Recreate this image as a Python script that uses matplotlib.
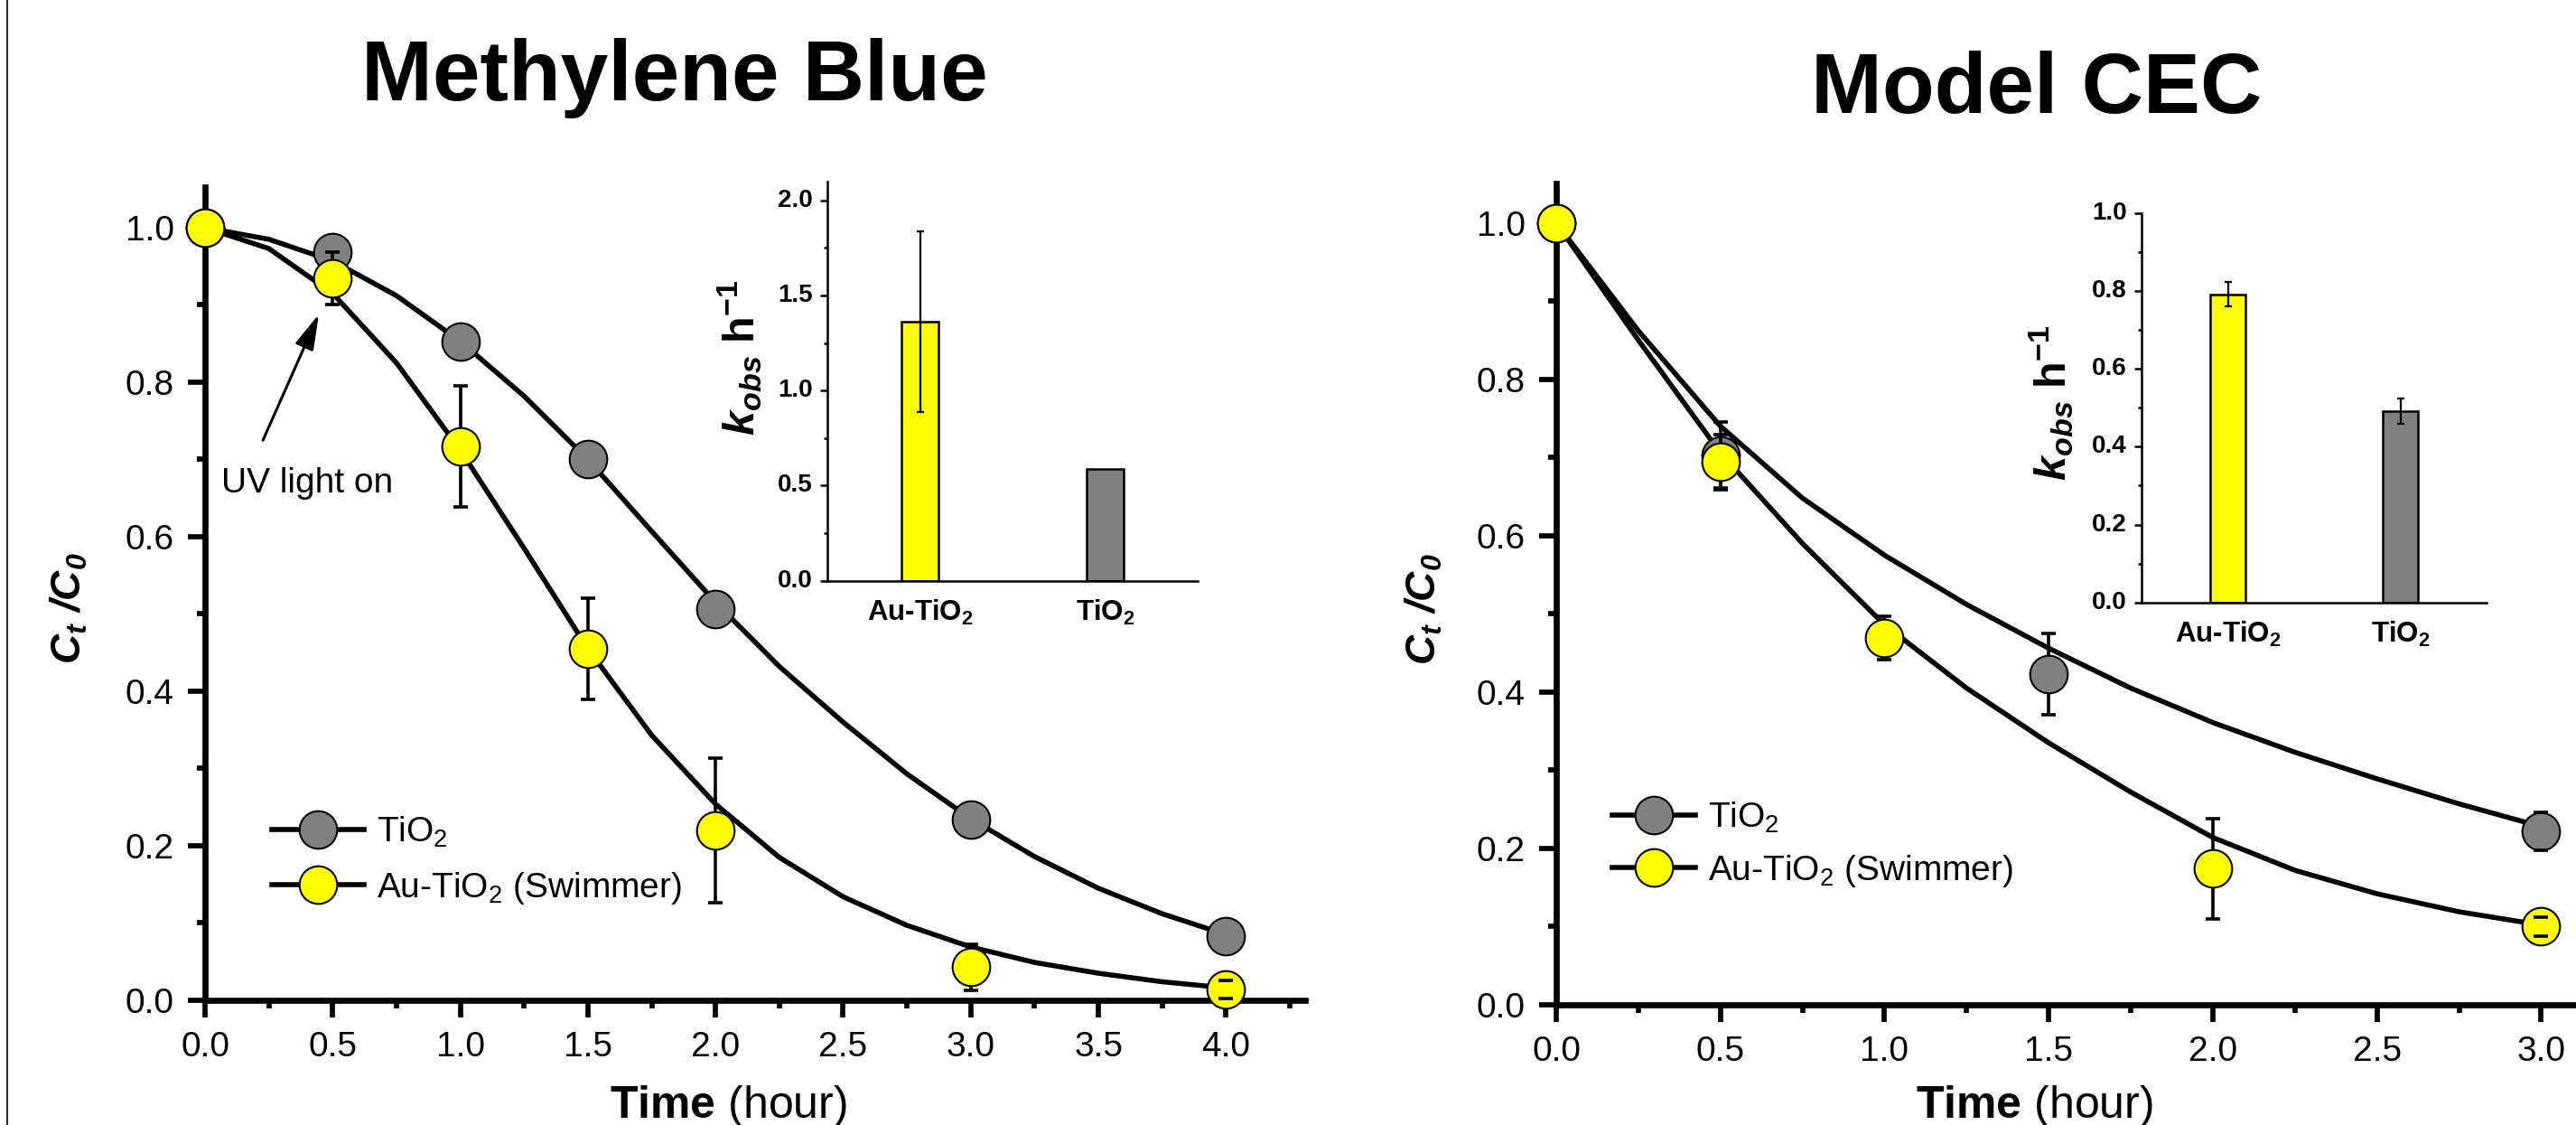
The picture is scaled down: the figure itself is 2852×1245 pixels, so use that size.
import matplotlib
matplotlib.use("Agg")
import matplotlib.pyplot as plt
from matplotlib.lines import Line2D
from matplotlib.ticker import MultipleLocator, FormatStrFormatter, FixedLocator

plt.rcParams['font.family'] = ['Liberation Sans', 'DejaVu Sans']
plt.rcParams['mathtext.fontset'] = 'custom'
plt.rcParams['mathtext.rm'] = 'Liberation Sans'
plt.rcParams['mathtext.it'] = 'Liberation Sans:italic'
plt.rcParams['mathtext.bf'] = 'Liberation Sans:bold'
plt.rcParams['mathtext.bfit'] = 'Liberation Sans:bold:italic'

GRAY = '#808080'
YELLOW = '#ffff00'

# ----------------------------
# Methylene Blue data
# ----------------------------
mb_tio2_t = [0.0, 0.5, 1.0, 1.5, 2.0, 3.0, 4.0]
mb_tio2 = [1.0, 0.968, 0.853, 0.700, 0.507, 0.234, 0.083]
mb_au_t = [0.0, 0.5, 1.0, 1.5, 2.0, 3.0, 4.0]
mb_au = [1.0, 0.934, 0.717, 0.455, 0.220, 0.043, 0.014]
mb_au_err = [0.0, 0.034, 0.078, 0.066, 0.094, 0.030, 0.012]

# fitted curves
mb_fit_t = [0.0, 0.25, 0.5, 0.75, 1.0, 1.25, 1.5, 1.75, 2.0,
            2.25, 2.5, 2.75, 3.0, 3.25, 3.5, 3.75, 4.0]
mb_tio2_fit = [1.0, 0.985, 0.957, 0.912, 0.853, 0.782, 0.700, 0.607, 0.515,
               0.432, 0.360, 0.293, 0.235, 0.186, 0.145, 0.112, 0.085]
mb_au_fit = [1.0, 0.973, 0.915, 0.825, 0.712, 0.585, 0.455, 0.343, 0.254,
             0.185, 0.134, 0.097, 0.069, 0.049, 0.035, 0.024, 0.016]

# ----------------------------
# Model CEC data
# ----------------------------
cec_tio2_t = [0.0, 0.5, 1.5, 3.0]
cec_tio2 = [1.0, 0.703, 0.423, 0.222]
cec_tio2_err = [0.0, 0.042, 0.052, 0.024]
cec_au_t = [0.0, 0.5, 1.0, 2.0, 3.0]
cec_au = [1.0, 0.694, 0.469, 0.174, 0.100]
cec_au_err = [0.0, 0.035, 0.028, 0.064, 0.012]

cec_fit_t = [0.0, 0.25, 0.5, 0.75, 1.0, 1.25, 1.5, 1.75, 2.0,
             2.25, 2.5, 2.75, 3.0]
cec_tio2_fit = [1.0, 0.862, 0.740, 0.648, 0.575, 0.512, 0.456, 0.405, 0.361,
                0.323, 0.289, 0.257, 0.228]
cec_au_fit = [1.0, 0.850, 0.706, 0.590, 0.486, 0.405, 0.335, 0.272, 0.214,
              0.172, 0.142, 0.119, 0.102]

# ----------------------------
# Inset rate constants
# ----------------------------
kobs_labels = ['Au-TiO$_\\mathbf{2}$', 'TiO$_\\mathbf{2}$']
mb_kobs = [1.363, 0.586]
mb_kobs_err = [0.475, 0.0]
cec_kobs = [0.791, 0.491]
cec_kobs_err = [0.031, 0.033]
mb_kticks = [0.0, 0.5, 1.0, 1.5, 2.0]
mb_kticklabels = ['0.0', '0.5', '1.0', '1.5', '2.0']
cec_kticks = [0.0, 0.2, 0.4, 0.6, 0.8, 1.0]
cec_kticklabels = ['0.0', '0.2', '0.4', '0.6', '0.8', '1.0']

W, H = 2852, 1245
fig = plt.figure(figsize=(W / 100, H / 100), dpi=100)


def px_axes(left, right, bottom, top):
    # axes box given in pixels of the output image (y from top)
    return fig.add_axes([left / W, 1 - bottom / H, (right - left) / W, (bottom - top) / H])


def style_main(ax, xmax, ymax, label_xy):
    ax.set_xlim(0, xmax)
    ax.set_ylim(0, ymax)
    for s in ['top', 'right']:
        ax.spines[s].set_visible(False)
    for s in ['left', 'bottom']:
        ax.spines[s].set_linewidth(4.8)
    ax.xaxis.set_major_locator(MultipleLocator(0.5))
    ax.xaxis.set_minor_locator(MultipleLocator(0.25))
    ax.yaxis.set_major_locator(MultipleLocator(0.2))
    ax.yaxis.set_minor_locator(MultipleLocator(0.1))
    ax.xaxis.set_major_formatter(FormatStrFormatter('%.1f'))
    ax.yaxis.set_major_formatter(FormatStrFormatter('%.1f'))
    ax.tick_params(which='major', direction='out', length=13.5, width=4.1,
                   labelsize=28, pad=11)
    ax.tick_params(which='minor', direction='out', length=6.5, width=4.1)
    ax.set_ylabel(r'$\mathbfit{C_t\ /C_0}$', fontsize=33)
    ax.yaxis.set_label_coords(*label_xy)


def series(ax, t, y, err, color, z):
    ax.plot(t, y, 'o', ms=30, mfc=color, mec='black', mew=1.5,
            zorder=z, clip_on=False)
    if err is None:
        return
    keep = [i for i, e in enumerate(err) if e > 0]
    eb = ax.errorbar([t[i] for i in keep], [y[i] for i in keep],
                     yerr=[err[i] for i in keep], fmt='none', ecolor='black',
                     elinewidth=2.6, capsize=6, capthick=2.6)
    for c in eb.lines[1]:
        c.set_zorder(8)
        c.set_clip_on(False)
    for b in eb.lines[2]:
        b.set_zorder(z - 0.5)
        b.set_clip_on(False)


def bars(ax, vals, errs):
    ax.bar([0, 1], vals, width=0.2, color=[YELLOW, GRAY], edgecolor='black',
           linewidth=1.8, zorder=2)
    keep = [i for i, e in enumerate(errs) if e > 0]
    ax.errorbar(keep, [vals[i] for i in keep], yerr=[errs[i] for i in keep],
                fmt='none', ecolor='black', elinewidth=1.6, capsize=3,
                capthick=1.6, zorder=3)


def style_inset(ax, ymax, ticks, ticklabels, minor, label_xy, lab_off):
    ax.set_facecolor('none')
    ax.set_xlim(-0.5, 1.5)
    ax.set_ylim(0, ymax)
    for s in ['top', 'right']:
        ax.spines[s].set_visible(False)
    for s in ['left', 'bottom']:
        ax.spines[s].set_linewidth(1.8)
    ax.yaxis.set_major_locator(FixedLocator(ticks))
    ax.yaxis.set_minor_locator(MultipleLocator(minor))
    ax.tick_params(axis='y', which='major', direction='out', length=5.7,
                   width=1.8, labelleft=False)
    ax.tick_params(axis='y', which='minor', direction='out', length=3, width=1.8)
    # bold tick labels written next to the ticks
    for v, s in zip(ticks, ticklabels):
        ax.text(-lab_off, v, s, transform=ax.get_yaxis_transform(), ha='right',
                va='center', fontsize=20, fontweight='bold')
    ax.set_xticks([0, 1])
    ax.set_xticklabels(kobs_labels, fontweight='bold')
    ax.tick_params(axis='x', length=0, pad=14, labelsize=22.5)
    ax.set_ylabel(r'$\mathbfit{k}_{\mathbfit{obs}}\ \mathbf{h}^{\mathbf{-1}}$',
                  fontsize=35)
    ax.yaxis.set_label_coords(*label_xy)


def legend(ax, anchor, spacing, hlen):
    handles = [
        Line2D([], [], color='black', lw=4, marker='o', ms=30, mfc=GRAY, mec='black', mew=1.5),
        Line2D([], [], color='black', lw=4, marker='o', ms=30, mfc=YELLOW, mec='black', mew=1.5),
    ]
    ax.legend(handles, ['TiO$_2$', 'Au-TiO$_2$ (Swimmer)'], loc='center left',
              bbox_to_anchor=anchor, frameon=False, fontsize=28, numpoints=1,
              handlelength=hlen, handletextpad=0.35, labelspacing=spacing,
              borderpad=0, borderaxespad=0)


# ----------------------------
# Methylene Blue panel
# ----------------------------
ax1 = px_axes(227, 1445, 1107, 207)
style_main(ax1, 4.31, 1.0526, (-0.105, 0.482))
ax1.plot(mb_fit_t, mb_tio2_fit, color='black', lw=4.0, zorder=2)
ax1.plot(mb_fit_t, mb_au_fit, color='black', lw=4.0, zorder=2)
series(ax1, mb_tio2_t, mb_tio2, None, GRAY, 3)
series(ax1, mb_au_t, mb_au, mb_au_err, YELLOW, 4)
legend(ax1, (0.061, 0.172), 0.6, 2.62)
ax1.annotate('', xy=(0.45, 0.891), xytext=(0.223, 0.722),
             arrowprops=dict(arrowstyle='-|>,head_length=0.8,head_width=0.22',
                             mutation_scale=30, lw=2.2, color='black'))
ax1.text(0.064, 0.657, 'UV light on', fontsize=28, va='baseline')

in1 = px_axes(916, 1326, 642.5, 200.7)
bars(in1, mb_kobs, mb_kobs_err)
style_inset(in1, 2.1, mb_kticks, mb_kticklabels, 0.25, (-0.17, 0.56), 0.040)

# ----------------------------
# Model CEC panel
# ----------------------------
ax2 = px_axes(1723, 2897, 1112, 202.5)
style_main(ax2, 3.23, 1.051, (-0.105, 0.482))
ax2.plot(cec_fit_t, cec_tio2_fit, color='black', lw=4.0, zorder=2)
ax2.plot(cec_fit_t, cec_au_fit, color='black', lw=4.0, zorder=2)
series(ax2, cec_tio2_t, cec_tio2, cec_tio2_err, GRAY, 3)
series(ax2, cec_au_t, cec_au, cec_au_err, YELLOW, 4)
legend(ax2, (0.053, 0.195), 0.5, 2.37)

in2 = px_axes(2371, 2753, 666.8, 235.7)
bars(in2, cec_kobs, cec_kobs_err)
style_inset(in2, 1.0, cec_kticks, cec_kticklabels, 0.1, (-0.19, 0.514), 0.042)

# ----------------------------
# Titles, x labels, border
# ----------------------------
fig.text(747 / W, 1 - 111 / H, 'Methylene Blue', ha='center', va='baseline',
         fontsize=68, fontweight='bold')
fig.text(2255 / W, 1 - 125 / H, 'Model CEC', ha='center', va='baseline',
         fontsize=68, fontweight='bold')
fig.text(806 / W, 1 - 1237 / H, r'$\mathbf{Time}$ (hour)', ha='center',
         va='baseline', fontsize=36)
fig.text(2252 / W, 1 - 1237 / H, r'$\mathbf{Time}$ (hour)', ha='center',
         va='baseline', fontsize=36)
fig.add_artist(Line2D([8 / W, 8 / W], [0, 1], color='black', lw=1.2,
                      transform=fig.transFigure))

fig.savefig('out.png', dpi=100)
